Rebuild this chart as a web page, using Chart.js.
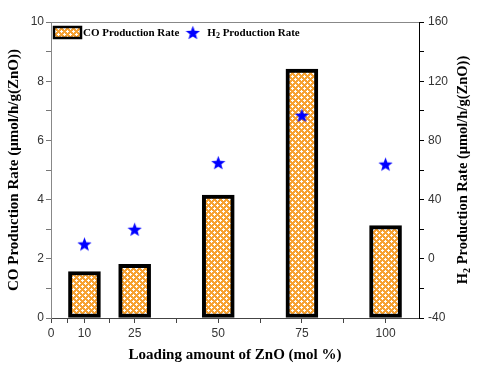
<!DOCTYPE html>
<html>
<head>
<meta charset="utf-8">
<script src="https://cdn.jsdelivr.net/npm/chart.js@4/dist/chart.umd.min.js"></script>
<style>
  body { margin: 0; background: #fff; }
  canvas { display: block; }
</style>
</head>
<body>
<canvas id="rateChart" width="480" height="368"></canvas>
<script>
// data
const loadings = [10, 25, 50, 75, 100];
const coRate = [1.57, 1.81, 4.15, 8.41, 3.12];
const h2Rate = [10, 20, 65, 97, 64];

// tick marks / labels
const xTickValues = [0, 5, 10, 17.5, 25, 37.5, 50, 62.5, 75, 87.5, 100];
const xTickLabels = [0, 10, 25, 50, 75, 100];
const coTickValues = [0, 1, 2, 3, 4, 5, 6, 7, 8, 9, 10];
const coTickLabels = [0, 2, 4, 6, 8, 10];
const h2TickValues = [-40, -20, 0, 20, 40, 60, 80, 100, 120, 140, 160];
const h2TickLabels = [-40, 0, 40, 80, 120, 160];

const serif = "'Liberation Serif', 'Times New Roman', serif";
const sans = "'Liberation Sans', Arial, sans-serif";

// orange fill with white dots, like the hatch in the original
function makePattern() {
    const c = document.createElement('canvas');
    c.width = 6; c.height = 6;
    const g = c.getContext('2d');
    g.fillStyle = '#f7a233';
    g.fillRect(0, 0, 6, 6);
    g.fillStyle = '#ffffff';
    g.fillRect(1, 0, 1, 3); g.fillRect(0, 1, 3, 1);
    g.fillRect(4, 3, 1, 3); g.fillRect(3, 4, 3, 1);
    return c.getContext('2d').createPattern(c, 'repeat');
}

function makeStar(size, color) {
    const c = document.createElement('canvas');
    c.width = size; c.height = size;
    const g = c.getContext('2d');
    const cx = size / 2, cy = size / 2 + 0.8, R = size / 2, r = R * 0.42;
    g.fillStyle = color;
    g.beginPath();
    for (let i = 0; i < 10; i++) {
        const a = -Math.PI / 2 + i * Math.PI / 5;
        const rad = i % 2 ? r : R;
        g.lineTo(cx + rad * Math.cos(a), cy + rad * Math.sin(a));
    }
    g.closePath();
    g.fill();
    return c;
}

const barFill = makePattern();
const star = makeStar(15, '#0000ff');

// text with a subscript "2" after the leading H (H2 labels)
function drawH2Text(ctx, x, y, rest, size) {
    const big = 'bold ' + size + 'px ' + serif;
    const small = 'bold ' + Math.round(size * 0.7) + 'px ' + serif;
    ctx.font = big; ctx.fillText('H', x, y); x += ctx.measureText('H').width;
    ctx.font = small; ctx.fillText('2', x, y + size * 0.3); x += ctx.measureText('2').width;
    ctx.font = big; ctx.fillText(rest, x, y);
}
function h2TextWidth(ctx, rest, size) {
    ctx.font = 'bold ' + size + 'px ' + serif;
    let w = ctx.measureText('H').width + ctx.measureText(rest).width;
    ctx.font = 'bold ' + Math.round(size * 0.7) + 'px ' + serif;
    return w + ctx.measureText('2').width;
}

// legend sits inside the plot, top-left
const insideLegend = {
    id: 'insideLegend',
    afterDraw(chart) {
        const ctx = chart.ctx;
        const area = chart.chartArea;
        const bars = chart.data.datasets[0];
        const y = area.top + 10;
        ctx.save();
        ctx.fillStyle = bars.backgroundColor;
        ctx.fillRect(area.left + 3, y - 5, 27, 11);
        ctx.strokeStyle = '#000';
        ctx.lineWidth = 2.5;
        ctx.strokeRect(area.left + 3, y - 5, 27, 11);
        ctx.fillStyle = '#000';
        ctx.textBaseline = 'middle';
        ctx.font = 'bold 11px ' + serif;
        const x1 = area.left + 32;
        ctx.fillText(bars.label, x1, y + 1);
        const x2 = x1 + ctx.measureText(bars.label).width + 6;
        ctx.drawImage(star, x2, y - 7);
        drawH2Text(ctx, x2 + 22, y + 1, ' Production Rate', 11);
        ctx.restore();
    }
};

// right axis title reads bottom-to-top in the original, so draw it here
const rightTitle = {
    id: 'rightTitle',
    afterDraw(chart) {
        const ctx = chart.ctx;
        const area = chart.chartArea;
        const rest = ' Production Rate (μmol/h/g(ZnO))';
        ctx.save();
        const total = h2TextWidth(ctx, rest, 14.5);
        ctx.translate(463, (area.top + area.bottom) / 2);
        ctx.rotate(-Math.PI / 2);
        ctx.fillStyle = '#000';
        ctx.textBaseline = 'middle';
        drawH2Text(ctx, -total / 2, 0, rest, 14.5);
        ctx.restore();
    }
};

function fixedTicks(values) {
    return scale => { scale.ticks = values.map(v => ({ value: v })); };
}

const ctx = document.getElementById('rateChart').getContext('2d');
new Chart(ctx, {
    type: 'bar',
    data: {
        datasets: [{
            label: 'CO Production Rate',
            data: loadings.map((x, i) => ({ x: x, y: coRate[i] })),
            backgroundColor: barFill,
            borderColor: '#000',
            borderWidth: 4,
            borderSkipped: false,
            barThickness: 32,
            yAxisID: 'y',
            order: 2
        }, {
            type: 'scatter',
            label: 'H2 Production Rate',
            data: loadings.map((x, i) => ({ x: x, y: h2Rate[i] })),
            pointStyle: star,
            backgroundColor: '#0000ff',
            borderColor: '#0000ff',
            yAxisID: 'y2',
            order: 1
        }]
    },
    options: {
        responsive: false,
        animation: false,
        layout: { padding: 0 },
        plugins: {
            tooltip: { enabled: false },
            legend: { display: false }
        },
        scales: {
            x: {
                type: 'linear',
                position: 'bottom',
                offset: false,
                min: 0,
                max: 110,
                afterBuildTicks: fixedTicks(xTickValues),
                afterFit: s => { s.height = 50; },
                grid: { drawOnChartArea: false, offset: false, tickLength: 5, color: '#444' },
                border: { color: '#444', width: 1 },
                ticks: {
                    autoSkip: false,
                    maxRotation: 0,
                    padding: 3,
                    color: '#333',
                    font: { family: sans, size: 12 },
                    callback: v => xTickLabels.includes(v) ? String(v) : ''
                },
                title: {
                    display: true,
                    text: 'Loading amount of ZnO (mol %)',
                    color: '#000',
                    font: { family: serif, size: 15, weight: 'bold' },
                    padding: { top: 0, bottom: 4 }
                }
            },
            x2: {
                type: 'linear',
                position: 'top',
                offset: false,
                min: 0,
                max: 110,
                afterFit: s => { s.height = 22; },
                grid: { display: false },
                border: { color: '#888', width: 1 },
                ticks: { display: false }
            },
            y: {
                position: 'left',
                min: 0,
                max: 10,
                afterBuildTicks: fixedTicks(coTickValues),
                afterFit: s => { s.width = 51; },
                grid: { drawOnChartArea: false, tickLength: 5, color: '#777' },
                border: { color: '#888', width: 1 },
                ticks: {
                    padding: 2,
                    color: '#333',
                    font: { family: sans, size: 12 },
                    callback: v => coTickLabels.includes(v) ? String(v) : ''
                },
                title: {
                    display: true,
                    text: 'CO Production Rate (μmol/h/g(ZnO))',
                    color: '#000',
                    font: { family: serif, size: 15, weight: 'bold' },
                    padding: { top: 5, bottom: 0 }
                }
            },
            y2: {
                position: 'right',
                min: -40,
                max: 160,
                afterBuildTicks: fixedTicks(h2TickValues),
                afterFit: s => { s.width = 61; },
                grid: { drawOnChartArea: false, tickLength: 5, color: '#000' },
                border: { color: '#000', width: 1 },
                ticks: {
                    padding: 4,
                    color: '#333',
                    font: { family: sans, size: 12 },
                    callback: v => h2TickLabels.includes(v) ? String(v) : ''
                }
            }
        }
    },
    plugins: [insideLegend, rightTitle]
});
</script>
</body>
</html>
